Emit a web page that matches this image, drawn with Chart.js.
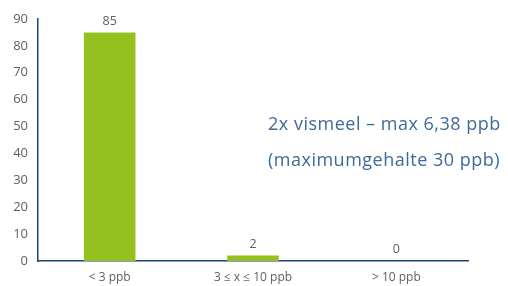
<!DOCTYPE html>
<html>
<head>
<meta charset="utf-8">
<script src="https://cdn.jsdelivr.net/npm/chart.js@4/dist/chart.umd.min.js"></script>
<style>
  html, body { margin: 0; padding: 0; background: #fff; }
  #wrap { width: 508px; height: 286px; }
</style>
</head>
<body>
<div id="wrap"><canvas id="barChart"></canvas></div>
<script>
'use strict';

// data
var categories = ['< 3 ppb', '3 \u2264 x \u2264 10 ppb', '> 10 ppb'];
var counts = [85, 2, 0];
var yTicks = [0, 10, 20, 30, 40, 50, 60, 70, 80, 90];
var noteLines = ['2x vismeel \u2013 max 6,38 ppb', '(maximumgehalte 30 ppb)'];

var barGreen = '#95c11f';
var axisBlue = '#1b4270';
var tickGrey = '#5f5f5f';
var noteBlue = '#3d6a99';
var fontFamily = '"Open Sans", Lato, sans-serif';

// value labels above bars + note text
var labelPlugin = {
    id: 'labels',
    afterDatasetsDraw: function (chart) {
        var ctx = chart.ctx;
        var meta = chart.getDatasetMeta(0);
        ctx.save();
        ctx.fillStyle = tickGrey;
        ctx.font = '12.5px ' + fontFamily;
        ctx.textAlign = 'center';
        ctx.textBaseline = 'bottom';
        meta.data.forEach(function (bar, i) {
            ctx.fillText(String(counts[i]), bar.x, bar.y - 5);
        });

        var area = chart.chartArea;
        ctx.fillStyle = noteBlue;
        ctx.font = '18px ' + fontFamily;
        ctx.letterSpacing = '0.5px';
        ctx.textAlign = 'left';
        ctx.textBaseline = 'middle';
        noteLines.forEach(function (line, i) {
            ctx.fillText(line, area.left + 230, chart.scales.y.getPixelForValue(50.7) + i * 36);
        });
        ctx.restore();
    }
};

var myBarChart = new Chart(document.getElementById('barChart'), {
    type: 'bar',
    plugins: [labelPlugin],
    data: {
        labels: categories,
        datasets: [
            {
                data: counts,
                backgroundColor: barGreen,
                borderWidth: 0,
                categoryPercentage: 1,
                barPercentage: 0.36
            }
        ]
    },
    options: {
        responsive: true,
        maintainAspectRatio: false,
        animation: false,
        layout: {
            padding: { top: 19, right: 40, bottom: 0, left: 0 }
        },
        plugins: {
            legend: { display: false },
            tooltip: { enabled: false }
        },
        scales: {
            x: {
                grid: { display: false, drawTicks: false },
                border: { color: axisBlue, width: 1.5 },
                ticks: {
                    color: tickGrey,
                    font: { family: fontFamily, size: 12 },
                    padding: 9,
                    maxRotation: 0
                },
                afterFit: function (scale) { scale.height = 25; }
            },
            y: {
                min: 0,
                max: 90,
                grid: { display: false, drawTicks: false },
                border: { color: axisBlue, width: 1.5 },
                afterBuildTicks: function (scale) {
                    scale.ticks = yTicks.map(function (v) { return { value: v }; });
                },
                ticks: {
                    color: tickGrey,
                    font: { family: fontFamily, size: 13 },
                    padding: 10
                },
                afterFit: function (scale) { scale.width = 38; }
            }
        }
    }
});
</script>
</body>
</html>
